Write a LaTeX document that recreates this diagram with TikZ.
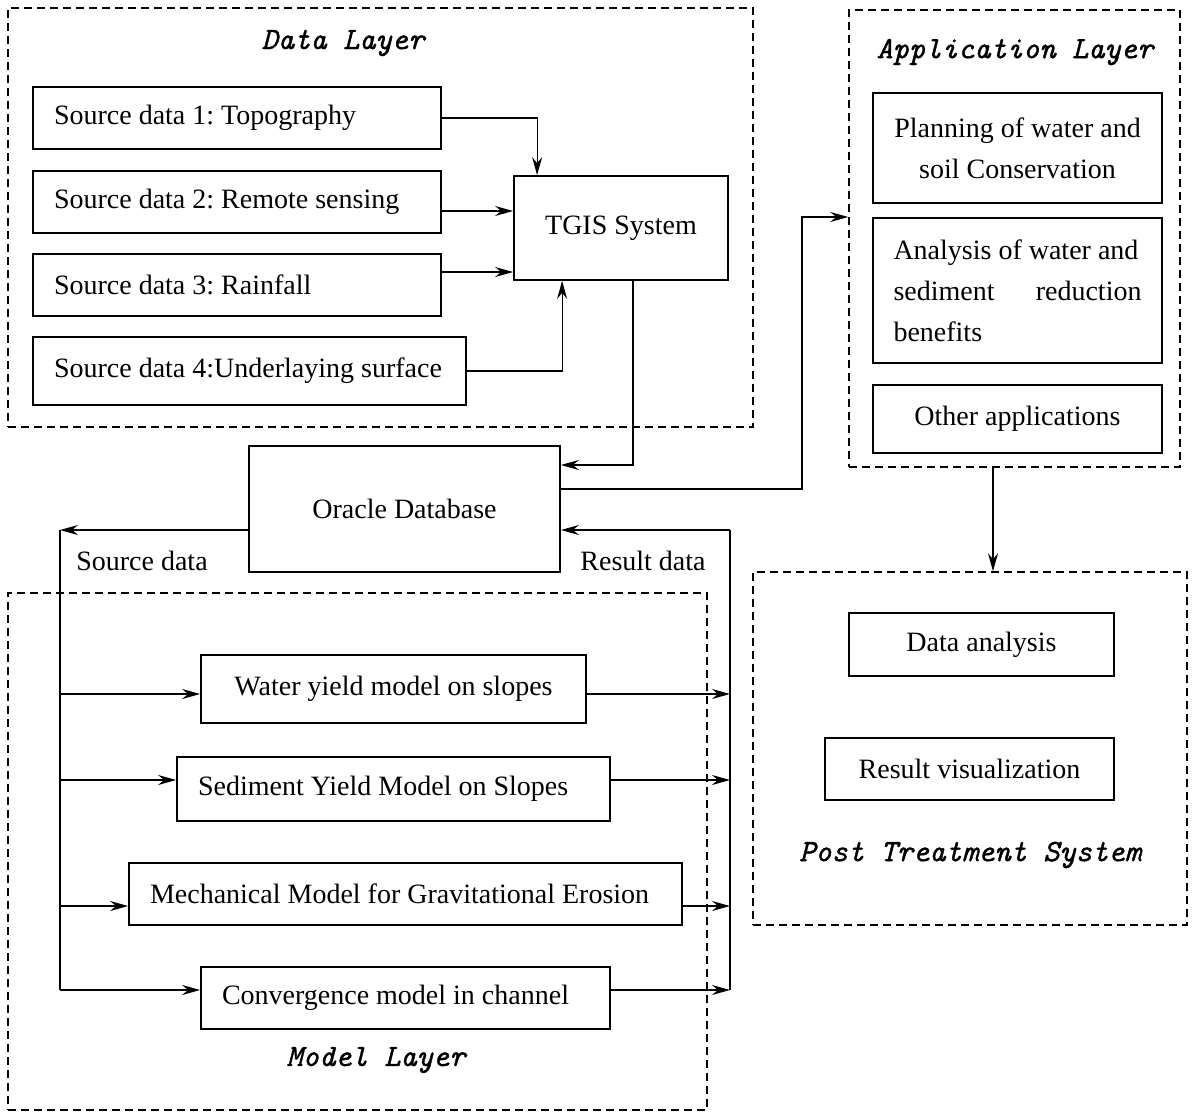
\documentclass[tikz,border=0pt]{standalone}
\usepackage{fontspec}
\setmainfont{Liberation Serif}
\newfontfamily\titlefont[FakeBold=1.2]{lmmono10-italic.otf}
\usetikzlibrary{arrows.meta}

\tikzset{
    box/.style={draw, line width=1.8pt, inner sep=0pt},
    srcbox/.style={box, align=flush left, inner xsep=21pt, inner ysep=0pt},
    layer/.style={draw, line width=1.5pt, dash pattern=on 8pt off 5pt, inner sep=0pt},
    title/.style={font=\titlefont\fontsize{31}{36}\selectfont},
    wire/.style={line width=1.6pt},
    link/.style={wire, -{Stealth[length=18pt,width=10pt,inset=6pt]}}
}

\begin{document}
\frenchspacing
\begin{tikzpicture}[x=1pt, y=-1pt, font=\fontsize{28}{41}\selectfont]

    \useasboundingbox (0,0) rectangle (1194,1114);

    % Layers
    \node[layer, minimum width=745pt, minimum height=419pt] (datalayer) at (380.5,217.5) {};
    \node[layer, minimum width=331pt, minimum height=457pt] (applayer) at (1014.5,238.5) {};
    \node[layer, minimum width=434pt, minimum height=353pt] (postlayer) at (970,748.5) {};
    \node[layer, minimum width=699pt, minimum height=517pt] (modellayer) at (357.5,851.5) {};

    \node[title] (datatitle) at (343,43) {Data Layer};
    \node[title] (apptitle) at (1015,52) {Application Layer};
    \node[title] (posttitle) at (970,855) {Post Treatment System};
    \node[title] (modeltitle) at (376,1060) {Model Layer};

    % Data layer
    \node[srcbox, text width=366pt, minimum height=62pt] (src1) at (237,118) {Source data 1: Topography};
    \node[srcbox, text width=366pt, minimum height=62pt] (src2) at (237,202) {Source data 2: Remote sensing};
    \node[srcbox, text width=366pt, minimum height=62pt] (src3) at (237,285) {Source data 3: Rainfall};
    \node[srcbox, text width=391pt, minimum height=68pt] (src4) at (249.5,371) {Source data 4:Underlaying surface};
    \node[box, minimum width=214pt, minimum height=104pt] (tgis) at (621,228) {TGIS System};

    % Database
    \node[box, minimum width=311pt, minimum height=126pt] (oracle) at (404.5,509) {Oracle Database};
    \node (srclabel) at (142,561) {Source data};
    \node (reslabel) at (643,561) {Result data};

    % Application layer
    \node[box, align=center, minimum width=289pt, minimum height=110pt] (planning) at (1017.5,148)
        {Planning of water and\\ soil Conservation};
    \node[box, align=flush left, text width=248pt, minimum width=289pt, minimum height=145pt] (analysis) at (1017.5,290.5)
        {Analysis of water and\\ sediment\hfill reduction\\ benefits};
    \node[box, minimum width=289pt, minimum height=68pt] (other) at (1017.5,419) {Other applications};

    % Post treatment
    \node[box, minimum width=265pt, minimum height=63pt] (analysisbox) at (981.5,644.5) {Data analysis};
    \node[box, minimum width=289pt, minimum height=62pt] (visual) at (969.5,769) {Result visualization};

    % Model layer
    \node[box, minimum width=385pt, minimum height=68pt] (water) at (393.5,689) {Water yield model on slopes};
    \node[srcbox, text width=391pt, minimum height=64pt] (sediment) at (393.5,789) {Sediment Yield Model on Slopes};
    \node[srcbox, text width=511pt, minimum height=62pt] (mech) at (405.5,894) {Mechanical Model for Gravitational Erosion};
    \node[srcbox, text width=367pt, minimum height=62pt] (conv) at (405.5,998) {Convergence model in channel};

    % Connectors
    \draw[link, line width=1.1pt] (src1.east) -| ([xshift=24pt]tgis.north west);
    \coordinate (s2) at ([yshift=-9pt]src2.east);
    \coordinate (s3) at ([yshift=13pt]src3.east);
    \draw[link] (s2) -- (s2 -| tgis.west);
    \draw[link] (s3) -- (s3 -| tgis.west);
    \draw[link, line width=1.1pt] (src4.east) -| ([xshift=49pt]tgis.south west);

    \draw[link] ([xshift=120pt]tgis.south west) |- ([yshift=44pt]oracle.east);

    \coordinate (bend) at (802,0);
    \coordinate (o2) at ([yshift=20pt]oracle.east);
    \draw[link] (o2) -- (o2 -| bend) |- ([yshift=21.5pt]applayer.west);

    \coordinate (a1) at ([xshift=-21.5pt]applayer.south);
    \draw[link] (a1) -- (a1 |- postlayer.north);

    \coordinate (lbus) at (60,530);
    \coordinate (lbusend) at (60,990);
    \coordinate (rbus) at (730,530);
    \coordinate (rbusend) at (730,990);
    \draw[link] (oracle.west |- lbus) -- (lbus);
    \draw[wire] (lbus) -- (lbusend);
    \draw[wire] (rbusend) -- (rbus);
    \draw[link] (rbus) -- (rbus -| oracle.east);

    \foreach \m/\dy in {water/-5, sediment/9, mech/-12, conv/8} {
        \coordinate (\m in) at ([yshift=\dy pt]\m.west);
        \coordinate (\m out) at ([yshift=\dy pt]\m.east);
        \draw[link] (lbus |- \m in) -- (\m in);
        \draw[link] (\m out) -- (\m out -| rbus);
    }

\end{tikzpicture}
\end{document}
